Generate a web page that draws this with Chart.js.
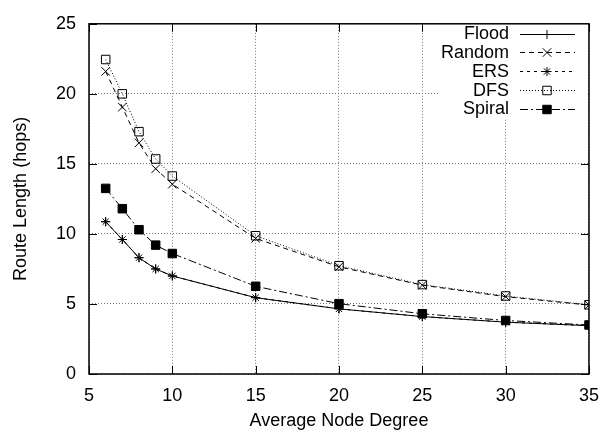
<!DOCTYPE html>
<html><head><meta charset="utf-8">
<script src="https://cdn.jsdelivr.net/npm/chart.js@4/dist/chart.umd.min.js"></script>
<style>html,body{margin:0;padding:0;background:#fff}#wrap{width:610px;height:434px;position:relative}</style>
</head><body><div id="wrap"><canvas id="c"></canvas></div>
<script>
const degrees = [6, 7, 8, 9, 10, 15, 20, 25, 30, 35];
const flood  = [10.87, 9.6, 8.3, 7.5, 7.0, 5.45, 4.65, 4.1, 3.7, 3.45];
const random = [21.6, 19.05, 16.5, 14.65, 13.55, 9.68, 7.65, 6.34, 5.52, 4.92];
const ers    = [10.87, 9.6, 8.3, 7.5, 7.0, 5.45, 4.65, 4.1, 3.7, 3.45];
const dfs    = [22.45, 20.0, 17.3, 15.35, 14.13, 9.87, 7.73, 6.38, 5.57, 4.94];
const spiral = [13.25, 11.8, 10.3, 9.2, 8.6, 6.26, 5.02, 4.3, 3.82, 3.5];
const seriesNames = ['Flood', 'Random', 'ERS', 'DFS', 'Spiral'];
const xTicks = [5, 10, 15, 20, 25, 30, 35];
const yTicks = [0, 5, 10, 15, 20, 25];

const FONT = "'Liberation Sans', Arial, sans-serif";
const styles = [
  {dash: [], ps: 'cross', r: 4.5, fill: false},
  {dash: [5, 4], ps: 'crossRot', r: 6, fill: false},
  {dash: [3, 4], ps: 'star', r: 4.5, fill: false},
  {dash: [1, 2], ps: 'rect', r: 6, fill: false},
  {dash: [8, 3, 2, 3], ps: 'rect', r: 6, fill: true}
];
const values = [flood, random, ers, dfs, spiral];

const datasets = seriesNames.map((n, i) => ({
  label: n,
  data: degrees.map((d, j) => ({x: d, y: values[i][j]})),
  borderColor: '#000',
  backgroundColor: styles[i].fill ? '#000' : 'rgba(255,255,255,0)',
  borderWidth: 1,
  borderDash: styles[i].dash,
  pointStyle: styles[i].ps,
  pointRadius: styles[i].r,
  pointBorderWidth: 1,
  pointBorderColor: '#000',
  pointBackgroundColor: styles[i].fill ? '#000' : 'rgba(255,255,255,0)',
  tension: 0,
  fill: false
}));

const framePlugin = {
  id: 'frame',
  afterDatasetsDraw(chart) {
    const {ctx, chartArea: a, scales: {x, y}} = chart;
    ctx.save();
    ctx.strokeStyle = '#000';
    ctx.setLineDash([]);
    ctx.lineWidth = 1;
    const T = 8;
    xTicks.forEach(v => {
      const px = Math.round(x.getPixelForValue(v)) + 0.5;
      ctx.beginPath();
      ctx.moveTo(px, a.bottom); ctx.lineTo(px, a.bottom - T);
      ctx.moveTo(px, a.top); ctx.lineTo(px, a.top + T);
      ctx.stroke();
    });
    yTicks.forEach(v => {
      const py = Math.round(y.getPixelForValue(v)) + 0.5;
      ctx.beginPath();
      ctx.moveTo(a.left, py); ctx.lineTo(a.left + T, py);
      ctx.moveTo(a.right, py); ctx.lineTo(a.right - T, py);
      ctx.stroke();
    });
    // legend
    ctx.fillStyle = '#fff';
    ctx.fillRect(440, 22, 148, 96);
    const x0 = 509, l1 = 520, l2 = 575, mx = 547;
    chart.data.datasets.forEach((ds, i) => {
      const yy = 33.5 + i * 18.75;
      ctx.fillStyle = '#000';
      ctx.font = '18px ' + FONT;
      ctx.textAlign = 'right';
      ctx.textBaseline = 'middle';
      ctx.fillText(ds.label, x0, yy + 1);
      ctx.strokeStyle = '#000';
      ctx.lineWidth = 1;
      ctx.setLineDash(ds.borderDash);
      ctx.beginPath();
      ctx.moveTo(l1, Math.round(yy) + 0.5); ctx.lineTo(l2, Math.round(yy) + 0.5);
      ctx.stroke();
      ctx.setLineDash([]);
      ctx.fillStyle = ds.pointBackgroundColor;
      Chart.helpers.drawPoint(ctx, {pointStyle: ds.pointStyle, radius: ds.pointRadius, rotation: 0, borderWidth: 1}, mx, Math.round(yy) + 0.5);
    });
    // border
    ctx.lineWidth = 1.5;
    ctx.strokeStyle = '#000';
    ctx.strokeRect(a.left, a.top, a.right - a.left, a.bottom - a.top);
    ctx.restore();
  }
};

new Chart(document.getElementById('c'), {
  type: 'line',
  data: {datasets},
  plugins: [framePlugin],
  options: {
    responsive: true,
    maintainAspectRatio: false,
    animation: false,
    layout: {padding: {left: 0, right: 13, top: 16, bottom: 0}},
    plugins: {legend: {display: false}, tooltip: {enabled: false}},
    scales: {
      x: {
        type: 'linear', min: 5, max: 35,
        afterBuildTicks: s => { s.ticks = xTicks.map(v => ({value: v})); },
        afterFit: s => { s.height = 60; },
        grid: {color: '#777', lineWidth: 1, drawTicks: false},
        border: {display: false, dash: [1, 2]},
        ticks: {color: '#000', font: {family: FONT, size: 18}, padding: 11, maxRotation: 0},
        title: {display: true, text: 'Average Node Degree', color: '#000', font: {family: FONT, size: 18}, padding: {top: 0, bottom: 2}}
      },
      y: {
        type: 'linear', min: 0, max: 25,
        afterBuildTicks: s => { s.ticks = yTicks.map(v => ({value: v})); },
        afterFit: s => { s.width = 89; },
        grid: {color: '#777', lineWidth: 1, drawTicks: false},
        border: {display: false, dash: [1, 2]},
        ticks: {color: '#000', font: {family: FONT, size: 18}, padding: 13},
        title: {display: true, text: 'Route Length (hops)', color: '#000', font: {family: FONT, size: 18}, padding: {top: 10, bottom: 0}}
      }
    }
  }
});
</script></body></html>
